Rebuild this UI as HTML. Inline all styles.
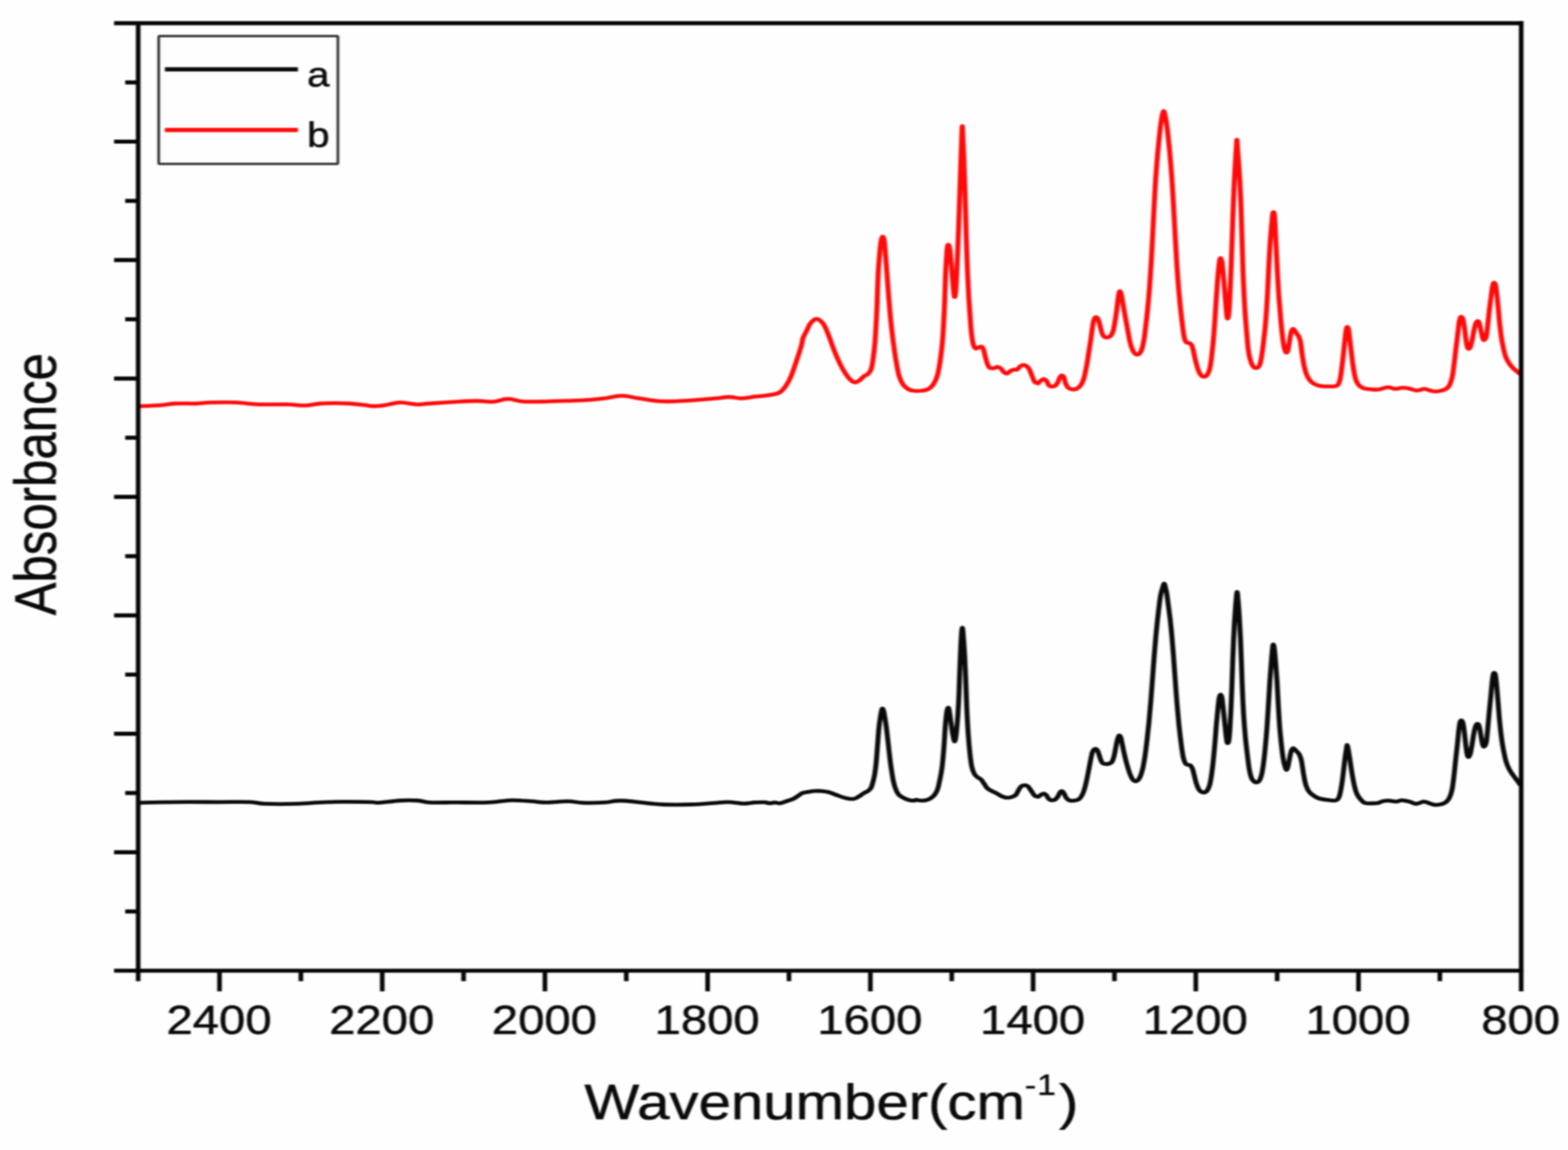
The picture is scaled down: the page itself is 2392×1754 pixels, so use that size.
<!DOCTYPE html>
<html lang="en">
<head>
<meta charset="utf-8">
<title>FTIR absorbance spectra</title>
<style>
html,body{margin:0;padding:0;background:#fefefe;}
body{width:2392px;height:1754px;overflow:hidden;}
svg{display:block;}
text{font-family:"Liberation Sans",sans-serif;fill:#0a0a0a;}
</style>
</head>
<body>
<svg width="2392" height="1754" viewBox="0 0 2392 1754">
<defs><filter id="soft" filterUnits="userSpaceOnUse" x="0" y="0" width="2392" height="1754" color-interpolation-filters="sRGB"><feGaussianBlur stdDeviation="1.50 1.15"/></filter></defs>
<rect x="0" y="0" width="2392" height="1754" fill="#fefefe"/>
<g filter="url(#soft)">
<rect x="-20" y="-20" width="2432" height="1794" fill="#fefefe"/>
<g fill="none" stroke-linejoin="round" stroke-linecap="butt" transform="scale(1.300,1)">
<path d="M163.24,1224.4C170.21,1224.2 189.55,1223.4 205.06,1223.3C220.57,1223.1 241.48,1223.3 256.27,1223.3C271.07,1223.3 284.73,1222.8 293.83,1223.3C302.94,1223.7 301.51,1225.5 310.90,1225.9C320.29,1226.4 337.93,1226.4 350.17,1225.9C362.40,1225.5 370.08,1223.7 384.31,1223.3C398.53,1222.8 425.56,1223.1 435.52,1223.3C444.06,1223.4 438.37,1224.7 444.06,1224.4C449.75,1224.0 461.98,1221.6 469.66,1221.0C477.35,1220.5 484.46,1220.6 490.15,1221.0C495.84,1221.5 497.26,1223.4 503.81,1223.9C510.35,1224.4 523.64,1223.9 529.41,1223.9C535.19,1223.9 531.26,1223.9 538.46,1223.9C545.66,1223.9 562.36,1224.5 572.60,1223.9C582.85,1223.4 591.38,1220.9 599.92,1220.6C608.45,1220.3 616.99,1221.6 623.82,1222.2C630.65,1222.7 633.78,1223.9 640.89,1223.9C648.00,1223.9 659.38,1222.1 666.50,1222.2C673.61,1222.2 676.45,1224.1 683.57,1224.4C690.68,1224.7 702.63,1224.4 709.17,1223.9C715.72,1223.4 718.56,1221.9 722.83,1221.5C727.10,1221.1 729.94,1221.1 734.78,1221.5C739.62,1221.9 744.74,1223.0 751.85,1223.9C758.97,1224.9 767.50,1226.5 777.46,1227.0C787.42,1227.6 801.64,1227.4 811.60,1227.0C821.56,1226.7 830.10,1225.4 837.21,1224.8C844.32,1224.2 848.59,1223.2 854.28,1223.3C859.97,1223.4 867.08,1225.2 871.35,1225.5C875.62,1225.7 877.68,1225.1 879.89,1224.8C882.10,1224.6 881.78,1224.2 884.62,1224.0C887.45,1223.8 893.83,1223.4 896.91,1223.6C899.98,1223.8 901.00,1225.2 903.05,1225.2C905.10,1225.3 907.15,1224.0 909.20,1224.0C911.25,1224.0 913.04,1225.6 915.34,1225.2C917.65,1224.9 920.47,1223.1 923.03,1222.0C925.59,1220.9 928.40,1220.0 930.71,1218.6C933.01,1217.2 935.06,1215.1 936.85,1213.6C938.65,1212.2 939.41,1210.7 941.46,1209.7C943.51,1208.7 946.58,1208.2 949.14,1207.7C951.71,1207.1 954.27,1206.4 956.83,1206.3C959.39,1206.1 961.69,1206.3 964.51,1206.7C967.33,1207.1 970.65,1207.6 973.73,1208.7C976.80,1209.8 979.87,1211.8 982.95,1213.2C986.02,1214.7 989.09,1216.3 992.16,1217.2C995.24,1218.1 998.82,1219.0 1001.38,1218.6C1003.94,1218.3 1005.48,1216.7 1007.53,1215.2C1009.58,1213.7 1011.88,1211.1 1013.67,1209.7C1015.47,1208.2 1016.87,1208.0 1018.28,1206.7C1019.69,1205.3 1021.02,1204.4 1022.12,1201.7C1023.23,1198.9 1024.18,1193.6 1024.92,1190.0C1025.66,1186.4 1026.00,1184.5 1026.54,1180.0C1027.08,1175.5 1027.63,1170.4 1028.17,1163.2C1028.71,1156.0 1029.24,1145.5 1029.78,1136.6C1030.32,1127.7 1030.86,1117.1 1031.41,1110.0C1031.96,1102.9 1032.55,1098.3 1033.06,1094.0C1033.57,1089.7 1034.04,1086.2 1034.46,1084.0C1034.89,1081.8 1035.22,1080.6 1035.61,1080.6C1036.01,1080.6 1036.40,1081.8 1036.84,1084.0C1037.29,1086.2 1037.75,1089.7 1038.30,1094.0C1038.86,1098.3 1039.47,1102.9 1040.18,1110.0C1040.88,1117.1 1041.75,1127.7 1042.53,1136.6C1043.31,1145.5 1044.16,1156.0 1044.87,1163.2C1045.59,1170.4 1046.29,1175.6 1046.82,1180.0C1047.36,1184.4 1047.47,1186.1 1048.09,1189.7C1048.71,1193.3 1049.50,1198.0 1050.55,1201.7C1051.60,1205.3 1052.85,1209.2 1054.39,1211.7C1055.93,1214.1 1057.85,1215.2 1059.77,1216.6C1061.69,1218.0 1063.86,1219.3 1065.91,1220.0C1067.96,1220.8 1070.52,1221.2 1072.06,1221.2C1073.59,1221.2 1073.59,1220.0 1075.13,1220.0C1076.67,1220.0 1078.97,1221.3 1081.28,1221.2C1083.58,1221.2 1086.65,1220.7 1088.96,1219.6C1091.26,1218.5 1093.31,1217.0 1095.10,1214.6C1096.90,1212.3 1098.42,1209.8 1099.71,1205.7C1101.00,1201.5 1101.87,1195.7 1102.83,1189.7C1103.80,1183.7 1104.72,1178.0 1105.52,1169.7C1106.33,1161.4 1107.06,1149.7 1107.67,1139.7C1108.28,1129.8 1108.70,1118.1 1109.18,1109.8C1109.67,1101.5 1110.16,1094.5 1110.58,1089.8C1111.00,1085.2 1111.28,1083.5 1111.70,1081.8C1112.11,1080.2 1112.63,1078.8 1113.08,1079.8C1113.53,1080.8 1113.87,1083.5 1114.41,1087.8C1114.95,1092.1 1115.69,1100.1 1116.34,1105.8C1116.99,1111.5 1117.70,1117.6 1118.31,1121.8C1118.92,1125.9 1119.43,1130.4 1119.99,1130.8C1120.56,1131.1 1121.10,1128.9 1121.68,1123.8C1122.27,1118.6 1123.01,1107.9 1123.52,1099.8C1124.03,1091.7 1124.42,1082.5 1124.74,1075.0C1125.06,1067.5 1125.16,1064.2 1125.43,1055.0C1125.70,1045.8 1126.03,1031.2 1126.36,1020.0C1126.68,1008.8 1127.06,997.0 1127.39,988.0C1127.72,979.0 1128.05,971.1 1128.35,966.0C1128.66,960.9 1128.92,957.3 1129.23,957.3C1129.53,957.3 1129.73,958.9 1130.19,966.0C1130.65,973.1 1131.47,987.6 1131.99,999.9C1132.52,1012.2 1132.93,1026.6 1133.35,1039.9C1133.76,1053.2 1134.01,1066.5 1134.48,1079.8C1134.95,1093.1 1135.56,1108.1 1136.19,1119.8C1136.81,1131.4 1137.51,1141.4 1138.22,1149.7C1138.93,1158.1 1139.55,1164.5 1140.43,1169.7C1141.31,1174.9 1142.35,1178.0 1143.50,1180.7C1144.65,1183.4 1146.06,1184.4 1147.34,1185.7C1148.62,1187.0 1149.90,1187.0 1151.18,1188.7C1152.46,1190.3 1153.74,1193.3 1155.02,1195.7C1156.30,1198.0 1157.33,1200.8 1158.87,1202.7C1160.40,1204.5 1162.32,1205.3 1164.24,1206.7C1166.16,1208.0 1168.47,1209.3 1170.39,1210.7C1172.31,1212.0 1173.97,1213.6 1175.77,1214.6C1177.56,1215.6 1179.22,1216.5 1181.14,1216.6C1183.06,1216.8 1185.50,1216.3 1187.29,1215.6C1189.08,1215.0 1190.62,1214.3 1191.90,1212.6C1193.18,1211.0 1193.95,1207.8 1194.97,1205.7C1196.00,1203.5 1196.76,1201.0 1198.04,1199.7C1199.32,1198.3 1201.24,1197.7 1202.65,1197.7C1204.06,1197.7 1205.21,1198.2 1206.49,1199.7C1207.77,1201.2 1209.05,1204.3 1210.33,1206.7C1211.62,1209.0 1212.90,1212.2 1214.18,1213.6C1215.46,1215.1 1217.18,1215.1 1218.02,1215.2C1218.86,1215.4 1218.51,1215.2 1219.23,1214.6C1219.94,1214.0 1221.35,1212.4 1222.30,1211.7C1223.25,1210.9 1224.01,1210.1 1224.91,1210.3C1225.81,1210.4 1226.70,1211.3 1227.68,1212.6C1228.65,1214.0 1229.60,1217.3 1230.75,1218.6C1231.90,1220.0 1233.31,1220.5 1234.59,1220.6C1235.87,1220.7 1237.28,1220.2 1238.43,1219.2C1239.58,1218.2 1240.61,1216.4 1241.50,1214.6C1242.40,1212.9 1243.04,1210.0 1243.81,1208.7C1244.58,1207.3 1245.34,1206.5 1246.11,1206.7C1246.88,1206.8 1247.60,1208.0 1248.42,1209.7C1249.24,1211.3 1250.01,1214.8 1251.03,1216.6C1252.05,1218.5 1253.08,1219.9 1254.56,1220.6C1256.05,1221.4 1258.15,1221.4 1259.94,1221.2C1261.73,1221.1 1263.73,1220.9 1265.32,1219.6C1266.91,1218.4 1268.26,1216.3 1269.47,1213.6C1270.67,1211.0 1271.59,1207.7 1272.54,1203.7C1273.49,1199.7 1274.33,1194.7 1275.18,1189.7C1276.04,1184.7 1276.86,1179.0 1277.67,1173.7C1278.47,1168.4 1279.34,1162.1 1280.02,1157.7C1280.71,1153.4 1281.14,1150.1 1281.76,1147.7C1282.38,1145.3 1283.09,1144.3 1283.75,1143.3C1284.42,1142.4 1285.06,1141.9 1285.75,1142.1C1286.44,1142.4 1287.21,1143.1 1287.90,1144.7C1288.59,1146.3 1289.23,1149.2 1289.90,1151.7C1290.57,1154.2 1291.21,1157.7 1291.90,1159.7C1292.59,1161.8 1293.10,1163.2 1294.05,1164.1C1295.00,1165.0 1296.35,1165.2 1297.58,1165.3C1298.81,1165.4 1300.22,1165.2 1301.42,1164.7C1302.63,1164.2 1303.83,1163.9 1304.80,1162.1C1305.78,1160.3 1306.55,1157.1 1307.26,1153.7C1307.98,1150.3 1308.49,1145.7 1309.11,1141.7C1309.72,1137.7 1310.39,1132.8 1310.95,1129.8C1311.51,1126.7 1312.02,1124.7 1312.49,1123.4C1312.95,1122.0 1313.25,1121.5 1313.72,1121.8C1314.18,1122.0 1314.75,1122.8 1315.25,1124.8C1315.75,1126.8 1316.16,1130.3 1316.72,1133.8C1317.29,1137.3 1317.89,1141.4 1318.63,1145.7C1319.36,1150.1 1320.30,1155.4 1321.15,1159.7C1321.99,1164.0 1322.84,1168.0 1323.70,1171.7C1324.56,1175.4 1325.42,1178.9 1326.31,1181.7C1327.21,1184.5 1328.11,1187.0 1329.08,1188.7C1330.05,1190.3 1331.08,1191.5 1332.15,1191.7C1333.23,1191.8 1334.51,1191.0 1335.53,1189.7C1336.56,1188.3 1337.38,1186.7 1338.30,1183.7C1339.22,1180.7 1340.19,1176.7 1341.06,1171.7C1341.94,1166.7 1342.75,1160.7 1343.56,1153.7C1344.37,1146.7 1345.13,1138.4 1345.91,1129.8C1346.70,1121.1 1347.50,1111.8 1348.25,1101.8C1349.00,1091.8 1349.70,1081.2 1350.41,1069.8C1351.12,1058.5 1351.83,1045.5 1352.51,1033.9C1353.18,1022.2 1353.81,1010.6 1354.46,999.9C1355.11,989.3 1355.83,978.3 1356.41,970.0C1356.99,961.7 1357.56,954.7 1357.93,950.0C1358.31,945.3 1358.12,947.4 1358.65,941.6C1359.17,935.8 1360.42,921.3 1361.09,915.0C1361.75,908.7 1362.08,907.1 1362.62,904.0C1363.15,900.9 1363.73,898.8 1364.31,896.5C1364.88,894.2 1365.51,890.2 1366.08,890.2C1366.64,890.2 1367.21,894.2 1367.69,896.5C1368.18,898.8 1368.56,900.9 1368.98,904.0C1369.40,907.1 1369.54,908.7 1370.19,915.0C1370.84,921.3 1372.31,935.8 1372.87,941.6C1373.44,947.4 1373.22,945.3 1373.59,950.0C1373.97,954.7 1374.55,961.7 1375.12,970.0C1375.69,978.3 1376.39,989.3 1377.02,999.9C1377.65,1010.6 1378.25,1022.2 1378.91,1033.9C1379.56,1045.5 1380.25,1058.5 1380.96,1069.8C1381.67,1081.2 1382.45,1092.5 1383.17,1101.8C1383.88,1111.1 1384.56,1118.4 1385.24,1125.8C1385.92,1133.1 1386.62,1140.4 1387.25,1145.7C1387.88,1151.1 1388.32,1154.6 1389.00,1157.7C1389.67,1160.9 1390.41,1163.2 1391.30,1164.7C1392.20,1166.2 1393.43,1166.2 1394.38,1166.7C1395.32,1167.2 1396.14,1166.7 1396.99,1167.7C1397.83,1168.7 1398.68,1170.0 1399.45,1172.7C1400.22,1175.4 1400.83,1179.9 1401.60,1183.7C1402.37,1187.5 1403.21,1192.3 1404.06,1195.7C1404.90,1199.0 1405.72,1201.7 1406.67,1203.7C1407.62,1205.7 1408.64,1206.8 1409.74,1207.7C1410.84,1208.5 1412.12,1209.0 1413.27,1208.7C1414.43,1208.3 1415.63,1207.5 1416.65,1205.7C1417.68,1203.8 1418.62,1201.3 1419.42,1197.7C1420.23,1194.0 1420.78,1189.7 1421.49,1183.7C1422.19,1177.7 1422.94,1170.0 1423.63,1161.7C1424.33,1153.4 1425.02,1143.1 1425.64,1133.8C1426.26,1124.4 1426.74,1114.8 1427.34,1105.8C1427.94,1096.8 1428.67,1086.8 1429.25,1079.8C1429.82,1072.8 1430.28,1067.2 1430.79,1063.8C1431.30,1060.5 1431.81,1059.5 1432.33,1059.5C1432.84,1059.5 1433.36,1060.5 1433.86,1063.8C1434.36,1067.2 1434.82,1073.8 1435.33,1079.8C1435.84,1085.8 1436.40,1093.1 1436.94,1099.8C1437.48,1106.5 1438.10,1114.6 1438.56,1119.8C1439.02,1124.9 1439.33,1128.5 1439.70,1130.8C1440.07,1133.0 1440.39,1133.5 1440.78,1133.4C1441.16,1133.2 1441.61,1133.0 1442.01,1129.8C1442.40,1126.5 1442.76,1121.1 1443.15,1113.8C1443.54,1106.5 1443.95,1096.5 1444.35,1085.8C1444.74,1075.2 1445.14,1062.5 1445.51,1049.9C1445.88,1037.2 1446.19,1022.6 1446.54,1009.9C1446.90,997.3 1447.28,984.0 1447.63,974.0C1447.97,964.0 1448.39,955.0 1448.61,950.0C1448.82,945.0 1448.64,948.8 1448.91,943.8C1449.18,938.8 1449.77,926.7 1450.23,919.8C1450.70,913.0 1451.20,902.9 1451.68,902.9C1452.17,902.9 1452.66,913.0 1453.12,919.8C1453.58,926.7 1454.00,934.8 1454.42,943.8C1454.85,952.8 1455.30,962.9 1455.69,974.0C1456.08,985.0 1456.40,997.3 1456.76,1009.9C1457.12,1022.6 1457.42,1036.6 1457.85,1049.9C1458.28,1063.2 1458.74,1077.2 1459.35,1089.8C1459.96,1102.5 1460.74,1115.1 1461.51,1125.8C1462.28,1136.4 1463.21,1145.7 1463.97,1153.7C1464.72,1161.7 1465.27,1168.2 1466.04,1173.7C1466.81,1179.2 1467.65,1183.6 1468.59,1186.7C1469.52,1189.7 1470.63,1191.0 1471.66,1192.1C1472.68,1193.2 1473.71,1193.5 1474.73,1193.3C1475.76,1193.0 1476.86,1192.6 1477.80,1190.7C1478.75,1188.7 1479.62,1185.9 1480.42,1181.7C1481.21,1177.5 1481.87,1172.4 1482.57,1165.7C1483.27,1159.1 1483.93,1151.1 1484.62,1141.7C1485.32,1132.4 1486.10,1121.1 1486.75,1109.8C1487.40,1098.5 1487.94,1085.8 1488.51,1073.8C1489.09,1061.9 1489.60,1049.2 1490.19,1037.9C1490.79,1026.6 1491.56,1014.2 1492.09,1005.9C1492.61,997.6 1492.97,991.8 1493.33,987.9C1493.69,984.1 1493.92,982.8 1494.24,983.0C1494.57,983.1 1494.86,984.5 1495.30,988.9C1495.74,993.4 1496.33,1001.4 1496.88,1009.9C1497.43,1018.4 1498.07,1029.2 1498.59,1039.9C1499.11,1050.5 1499.48,1062.2 1500.00,1073.8C1500.52,1085.5 1501.06,1098.8 1501.73,1109.8C1502.40,1120.8 1503.36,1131.9 1504.02,1139.7C1504.69,1147.5 1505.13,1151.8 1505.74,1156.6C1506.35,1161.4 1507.07,1165.6 1507.69,1168.5C1508.31,1171.4 1508.90,1173.9 1509.46,1174.2C1510.03,1174.5 1510.60,1172.3 1511.08,1170.5C1511.55,1168.7 1511.77,1166.7 1512.31,1163.3C1512.85,1159.9 1513.72,1153.3 1514.31,1150.0C1514.90,1146.7 1515.33,1145.0 1515.85,1143.6C1516.36,1142.1 1516.87,1141.5 1517.38,1141.3C1517.90,1141.1 1518.41,1141.9 1518.92,1142.4C1519.44,1143.0 1519.69,1143.6 1520.46,1144.6C1521.23,1145.6 1522.68,1147.1 1523.54,1148.6C1524.40,1150.0 1525.01,1151.4 1525.62,1153.3C1526.22,1155.2 1526.68,1157.2 1527.15,1160.0C1527.62,1162.8 1528.03,1166.7 1528.44,1170.0C1528.85,1173.3 1529.20,1176.7 1529.63,1180.0C1530.06,1183.3 1530.51,1186.9 1531.02,1190.0C1531.54,1193.1 1531.97,1195.9 1532.69,1198.6C1533.42,1201.3 1534.33,1203.9 1535.38,1206.0C1536.44,1208.1 1537.03,1209.2 1539.00,1211.1C1540.97,1213.0 1543.99,1216.0 1547.23,1217.5C1550.47,1219.0 1555.41,1219.6 1558.46,1220.2C1561.51,1220.8 1563.76,1221.1 1565.54,1221.1C1567.32,1221.0 1568.13,1221.0 1569.15,1219.9C1570.18,1218.8 1570.94,1217.3 1571.69,1214.5C1572.44,1211.7 1573.06,1207.3 1573.65,1203.2C1574.25,1199.1 1574.73,1194.9 1575.26,1189.9C1575.79,1184.9 1576.31,1178.8 1576.81,1173.3C1577.32,1167.8 1577.84,1161.3 1578.30,1156.6C1578.76,1151.9 1579.24,1148.2 1579.57,1145.3C1579.91,1142.4 1580.08,1140.5 1580.31,1139.0C1580.53,1137.5 1580.71,1136.2 1580.92,1136.3C1581.14,1136.4 1581.30,1137.8 1581.58,1139.5C1581.86,1141.2 1582.17,1143.2 1582.62,1146.6C1583.07,1150.0 1583.77,1155.5 1584.30,1160.0C1584.83,1164.5 1585.27,1168.9 1585.80,1173.3C1586.34,1177.7 1586.87,1182.2 1587.50,1186.6C1588.14,1191.0 1588.84,1195.9 1589.62,1199.9C1590.39,1203.9 1591.13,1207.5 1592.15,1210.5C1593.18,1213.5 1594.23,1215.5 1595.77,1217.9C1597.31,1220.3 1599.18,1223.4 1601.40,1224.6C1603.61,1225.9 1606.52,1225.2 1609.08,1225.2C1611.64,1225.3 1614.45,1225.4 1616.76,1224.8C1619.06,1224.3 1620.73,1222.6 1622.90,1222.0C1625.08,1221.4 1627.26,1221.1 1629.82,1221.2C1632.38,1221.3 1635.71,1222.7 1638.27,1222.6C1640.83,1222.5 1642.62,1220.6 1645.18,1220.6C1647.74,1220.6 1650.82,1221.7 1653.63,1222.6C1656.45,1223.5 1659.27,1226.0 1662.08,1226.0C1664.90,1226.0 1667.97,1222.8 1670.53,1222.6C1673.09,1222.5 1675.27,1224.4 1677.45,1225.2C1679.62,1226.1 1681.29,1227.4 1683.59,1227.6C1685.90,1227.9 1689.10,1227.3 1691.28,1226.6C1693.45,1226.0 1695.04,1225.3 1696.65,1223.6C1698.27,1222.0 1699.73,1220.0 1700.95,1216.6C1702.18,1213.3 1703.16,1209.2 1704.03,1203.7C1704.90,1198.2 1705.46,1191.3 1706.17,1183.7C1706.88,1176.0 1707.59,1166.0 1708.28,1157.7C1708.97,1149.4 1709.73,1141.1 1710.33,1133.8C1710.92,1126.4 1711.36,1119.1 1711.85,1113.8C1712.34,1108.5 1712.71,1104.3 1713.25,1101.8C1713.79,1099.3 1714.48,1098.5 1715.09,1098.8C1715.70,1099.1 1716.37,1100.6 1716.93,1103.8C1717.50,1107.0 1717.96,1112.5 1718.47,1117.8C1718.98,1123.1 1719.49,1130.4 1720.01,1135.8C1720.52,1141.1 1721.00,1146.6 1721.54,1149.7C1722.08,1152.9 1722.59,1154.7 1723.23,1154.7C1723.87,1154.7 1724.69,1152.9 1725.38,1149.7C1726.07,1146.6 1726.72,1140.7 1727.38,1135.8C1728.05,1130.8 1728.69,1124.4 1729.38,1119.8C1730.07,1115.1 1730.79,1110.5 1731.53,1107.8C1732.27,1105.1 1733.12,1103.8 1733.83,1103.8C1734.55,1103.8 1735.17,1104.8 1735.83,1107.8C1736.50,1110.8 1737.19,1117.3 1737.83,1121.8C1738.47,1126.3 1739.06,1131.9 1739.67,1134.8C1740.29,1137.6 1740.80,1139.1 1741.52,1138.7C1742.23,1138.4 1743.28,1136.9 1743.97,1132.8C1744.67,1128.6 1745.07,1121.6 1745.67,1113.8C1746.27,1106.0 1746.93,1094.8 1747.58,1085.8C1748.22,1076.8 1748.98,1067.5 1749.56,1059.9C1750.13,1052.2 1750.55,1045.0 1751.01,1039.9C1751.46,1034.7 1751.86,1031.2 1752.27,1028.9C1752.69,1026.6 1753.04,1026.0 1753.50,1026.3C1753.96,1026.6 1754.52,1027.0 1755.04,1030.9C1755.55,1034.8 1756.07,1042.7 1756.58,1049.9C1757.10,1057.0 1757.57,1065.2 1758.12,1073.8C1758.67,1082.5 1759.25,1093.1 1759.90,1101.8C1760.54,1110.5 1761.27,1118.8 1762.00,1125.8C1762.72,1132.8 1763.36,1137.7 1764.25,1143.7C1765.14,1149.7 1766.17,1156.7 1767.33,1161.7C1768.48,1166.7 1769.76,1170.2 1771.17,1173.7C1772.58,1177.2 1774.24,1179.9 1775.78,1182.7C1777.31,1185.5 1778.98,1188.2 1780.39,1190.7C1781.80,1193.2 1783.59,1196.5 1784.23,1197.7" stroke="#0a0a0a" stroke-width="5.80"/>
<path d="M163.24,619.5C167.36,619.3 181.02,618.8 187.99,618.1C194.96,617.5 197.95,615.9 205.06,615.5C212.17,615.0 223.55,615.7 230.67,615.5C237.78,615.2 240.06,614.2 247.74,613.9C255.42,613.7 267.37,613.4 276.76,613.9C286.15,614.4 293.83,616.3 304.07,616.8C314.32,617.3 330.53,616.6 338.22,616.8C345.90,617.0 346.18,617.9 350.17,618.1C354.15,618.4 357.85,618.6 362.12,618.1C366.38,617.7 370.65,616.0 375.77,615.5C380.89,614.9 387.15,614.8 392.84,614.8C398.53,614.8 404.22,615.0 409.91,615.5C415.61,616.0 422.15,617.0 426.99,617.7C431.82,618.4 434.95,619.4 438.94,619.5C442.92,619.6 445.76,619.1 450.89,618.1C456.01,617.2 463.40,614.2 469.66,613.9C475.92,613.7 482.75,616.6 488.44,616.8C494.13,617.1 495.56,616.2 503.81,615.5C512.06,614.8 528.47,613.3 537.95,612.6C547.42,611.9 554.02,611.4 560.65,611.5C567.28,611.5 571.75,613.3 577.73,612.8C583.70,612.3 590.53,608.5 596.50,608.4C602.48,608.3 606.18,611.7 613.58,612.4C620.97,613.0 631.78,612.6 640.89,612.4C649.99,612.2 659.67,611.7 668.20,611.3C676.74,610.9 685.27,610.5 692.10,609.9C698.93,609.3 702.91,608.7 709.17,607.7C715.43,606.7 722.83,603.7 729.66,603.7C736.49,603.7 742.18,606.3 750.15,607.7C758.11,609.1 767.22,611.7 777.46,612.2C787.70,612.6 801.36,611.3 811.60,610.6C821.84,609.9 831.52,608.6 838.92,607.7C846.31,606.9 850.87,605.5 855.99,605.5C861.11,605.5 865.66,607.6 869.64,607.7C873.63,607.8 877.39,606.6 879.89,606.2C882.38,605.7 881.27,605.7 884.62,605.2C887.96,604.7 895.11,604.2 899.98,603.2C904.84,602.2 910.22,601.5 913.81,599.2C917.39,597.0 919.18,593.6 921.49,589.7C923.79,585.7 925.84,580.7 927.63,575.7C929.43,570.7 930.71,565.4 932.24,559.7C933.78,554.0 935.45,547.4 936.85,541.7C938.26,536.1 939.80,530.1 940.69,525.7C941.59,521.4 941.33,519.1 942.23,515.8C943.13,512.4 944.66,509.4 946.07,505.8C947.48,502.1 949.14,496.8 950.68,493.8C952.22,490.8 954.06,489.0 955.29,487.8C956.52,486.6 957.03,486.4 958.06,486.4C959.08,486.4 960.10,486.6 961.44,487.8C962.77,489.0 964.51,490.8 966.05,493.8C967.58,496.8 969.12,501.1 970.65,505.8C972.19,510.4 973.73,516.4 975.26,521.7C976.80,527.1 978.08,532.1 979.87,537.7C981.67,543.4 983.97,550.4 986.02,555.7C988.07,561.0 990.12,565.7 992.16,569.7C994.21,573.7 996.39,577.4 998.31,579.7C1000.23,581.9 1001.89,583.3 1003.69,583.3C1005.48,583.3 1007.40,581.2 1009.06,579.7C1010.73,578.1 1012.14,575.6 1013.67,574.1C1015.21,572.6 1016.87,572.4 1018.28,570.7C1019.69,568.9 1021.12,567.2 1022.12,563.7C1023.13,560.2 1023.52,556.7 1024.30,549.7C1025.07,542.7 1025.99,535.1 1026.79,521.7C1027.58,508.4 1028.60,481.8 1029.06,469.8C1029.52,457.8 1029.37,457.0 1029.55,450.0C1029.73,443.0 1029.91,435.2 1030.15,428.0C1030.40,420.8 1030.66,413.6 1031.01,406.6C1031.37,399.6 1031.89,391.9 1032.30,386.0C1032.71,380.2 1033.09,375.2 1033.48,371.5C1033.86,367.8 1034.22,365.3 1034.62,363.6C1035.01,361.8 1035.43,361.0 1035.84,361.0C1036.25,361.0 1036.70,361.8 1037.07,363.6C1037.45,365.3 1037.79,367.8 1038.10,371.5C1038.41,375.2 1038.60,380.2 1038.95,386.0C1039.30,391.9 1039.79,399.6 1040.20,406.6C1040.61,413.6 1041.00,420.8 1041.42,428.0C1041.83,435.2 1042.03,439.7 1042.68,450.0C1043.34,460.3 1044.29,476.5 1045.35,489.8C1046.41,503.1 1047.90,518.8 1049.04,529.7C1050.18,540.7 1051.17,548.4 1052.19,555.7C1053.21,563.0 1053.89,568.5 1055.16,573.7C1056.42,578.8 1057.97,583.3 1059.77,586.7C1061.56,590.0 1063.86,592.1 1065.91,593.6C1067.96,595.2 1069.50,595.6 1072.06,596.0C1074.62,596.4 1078.46,596.4 1081.28,596.0C1084.09,595.6 1086.65,595.2 1088.96,593.6C1091.26,592.1 1093.31,590.0 1095.10,586.7C1096.90,583.3 1098.46,578.8 1099.71,573.7C1100.97,568.5 1101.60,564.7 1102.65,555.7C1103.70,546.7 1105.07,534.1 1106.00,519.7C1106.92,505.4 1107.63,486.5 1108.22,469.8C1108.81,453.2 1109.07,433.9 1109.54,419.9C1110.01,405.9 1110.62,393.4 1111.03,385.9C1111.44,378.4 1111.66,377.0 1112.00,374.9C1112.35,372.9 1112.70,373.0 1113.08,373.5C1113.46,374.0 1113.87,374.5 1114.31,377.9C1114.75,381.3 1115.20,386.9 1115.72,393.9C1116.24,400.9 1116.90,411.6 1117.45,419.9C1118.00,428.2 1118.61,438.4 1119.04,443.8C1119.46,449.3 1119.63,452.2 1119.99,452.8C1120.36,453.5 1120.83,452.3 1121.22,447.8C1121.62,443.3 1121.96,435.5 1122.36,425.9C1122.75,416.2 1123.18,402.6 1123.59,389.9C1124.00,377.3 1124.53,360.0 1124.83,350.0C1125.13,340.0 1125.12,340.0 1125.38,330.0C1125.65,320.0 1126.04,305.0 1126.43,290.0C1126.82,275.0 1127.36,254.2 1127.73,240.0C1128.11,225.8 1128.43,212.9 1128.68,205.0C1128.93,197.1 1129.05,192.5 1129.23,192.5C1129.41,192.5 1129.49,197.1 1129.78,205.0C1130.07,212.9 1130.57,225.8 1130.99,240.0C1131.42,254.2 1131.95,275.0 1132.32,290.0C1132.68,305.0 1132.89,316.7 1133.18,330.0C1133.47,343.3 1133.73,356.6 1134.07,369.9C1134.40,383.3 1134.74,396.6 1135.18,409.9C1135.61,423.2 1136.13,437.2 1136.69,449.8C1137.26,462.5 1138.05,476.5 1138.57,485.8C1139.08,495.1 1139.27,499.8 1139.76,505.8C1140.25,511.8 1140.88,517.7 1141.50,521.7C1142.13,525.7 1142.78,528.1 1143.50,529.7C1144.22,531.4 1144.91,531.7 1145.81,531.7C1146.70,531.7 1147.85,530.2 1148.88,529.7C1149.90,529.2 1151.06,528.1 1151.95,528.7C1152.85,529.4 1153.49,530.9 1154.26,533.7C1155.02,536.6 1155.79,542.1 1156.56,545.7C1157.33,549.4 1158.10,553.2 1158.87,555.7C1159.63,558.2 1160.02,559.7 1161.17,560.7C1162.32,561.7 1164.24,561.9 1165.78,561.7C1167.32,561.5 1168.98,559.7 1170.39,559.7C1171.80,559.7 1172.95,560.4 1174.23,561.7C1175.51,563.0 1176.79,566.4 1178.07,567.7C1179.35,569.0 1180.63,570.0 1181.91,569.7C1183.19,569.3 1184.47,566.7 1185.75,565.7C1187.03,564.7 1188.31,564.0 1189.59,563.7C1190.87,563.4 1192.15,564.5 1193.43,563.7C1194.71,562.9 1196.00,559.9 1197.28,558.7C1198.56,557.5 1199.84,556.7 1201.12,556.7C1202.40,556.7 1203.81,557.5 1204.96,558.7C1206.11,559.9 1207.01,561.2 1208.03,563.7C1209.05,566.2 1210.08,570.5 1211.10,573.7C1212.13,576.8 1213.02,580.8 1214.18,582.7C1215.33,584.5 1217.30,584.4 1218.02,584.7C1218.46,584.9 1218.02,584.9 1218.46,584.1C1219.17,583.2 1221.15,580.6 1222.30,579.7C1223.45,578.7 1224.35,577.9 1225.37,578.3C1226.40,578.6 1227.55,580.1 1228.44,581.7C1229.34,583.2 1229.72,586.3 1230.75,587.7C1231.77,589.0 1233.31,589.6 1234.59,589.7C1235.87,589.7 1237.28,589.2 1238.43,588.1C1239.58,586.9 1240.61,584.8 1241.50,582.7C1242.40,580.5 1243.04,576.9 1243.81,575.3C1244.58,573.6 1245.34,572.6 1246.11,572.7C1246.88,572.7 1247.65,573.5 1248.42,575.7C1249.19,577.8 1249.83,583.0 1250.72,585.7C1251.62,588.3 1252.39,590.3 1253.79,591.7C1255.20,593.0 1257.38,594.0 1259.17,594.0C1260.96,594.1 1262.89,593.4 1264.55,592.1C1266.21,590.7 1267.88,588.4 1269.16,585.7C1270.44,582.9 1271.23,580.3 1272.23,575.7C1273.23,571.0 1274.24,564.0 1275.14,557.7C1276.04,551.4 1276.80,544.4 1277.61,537.7C1278.43,531.1 1279.32,524.1 1280.03,517.7C1280.74,511.4 1281.35,504.4 1281.89,499.8C1282.43,495.1 1282.73,492.4 1283.29,489.8C1283.86,487.2 1284.57,485.0 1285.29,484.2C1286.01,483.4 1286.90,483.9 1287.60,484.8C1288.29,485.7 1288.80,487.3 1289.44,489.8C1290.08,492.3 1290.72,496.4 1291.44,499.8C1292.15,503.1 1292.97,507.4 1293.74,509.8C1294.51,512.1 1295.15,512.9 1296.05,513.8C1296.94,514.6 1297.97,514.9 1299.12,514.8C1300.27,514.6 1301.81,514.3 1302.96,512.8C1304.11,511.3 1305.15,509.3 1306.03,505.8C1306.91,502.3 1307.52,497.1 1308.24,491.8C1308.95,486.5 1309.71,479.8 1310.34,473.8C1310.97,467.8 1311.55,460.3 1312.01,455.8C1312.47,451.3 1312.74,448.8 1313.10,446.8C1313.46,444.9 1313.77,444.1 1314.18,444.2C1314.59,444.4 1315.08,445.6 1315.56,447.8C1316.03,450.1 1316.43,453.5 1317.03,457.8C1317.63,462.2 1318.44,468.5 1319.16,473.8C1319.89,479.1 1320.65,484.5 1321.40,489.8C1322.16,495.1 1322.93,500.4 1323.69,505.8C1324.46,511.1 1325.11,517.1 1326.01,521.7C1326.90,526.4 1328.05,530.7 1329.08,533.7C1330.10,536.7 1331.18,538.5 1332.15,539.7C1333.13,540.9 1334.02,541.1 1334.92,540.9C1335.81,540.8 1336.66,540.3 1337.53,538.7C1338.40,537.2 1339.32,535.2 1340.14,531.7C1340.97,528.2 1341.79,523.1 1342.48,517.7C1343.16,512.4 1343.57,507.1 1344.25,499.8C1344.93,492.5 1345.77,483.8 1346.54,473.8C1347.32,463.8 1348.15,452.2 1348.89,439.9C1349.62,427.5 1350.30,414.4 1350.95,399.9C1351.61,385.4 1352.18,369.7 1352.84,353.0C1353.50,336.3 1354.28,314.7 1354.90,300.0C1355.52,285.3 1355.99,275.8 1356.57,265.0C1357.16,254.2 1357.75,244.5 1358.40,235.0C1359.05,225.5 1359.87,215.5 1360.48,208.0C1361.09,200.5 1361.52,195.2 1362.07,190.0C1362.62,184.8 1363.19,179.9 1363.77,176.5C1364.35,173.1 1364.95,169.3 1365.54,169.3C1366.13,169.3 1366.71,173.1 1367.31,176.5C1367.90,179.9 1368.53,184.8 1369.10,190.0C1369.67,195.2 1370.11,200.5 1370.74,208.0C1371.36,215.5 1372.19,225.5 1372.85,235.0C1373.52,244.5 1374.13,254.2 1374.74,265.0C1375.35,275.8 1375.84,285.3 1376.51,300.0C1377.17,314.7 1378.02,336.3 1378.74,353.0C1379.45,369.7 1380.15,386.5 1380.81,400.0C1381.47,413.5 1382.00,423.0 1382.68,434.0C1383.36,445.0 1384.19,456.5 1384.91,465.8C1385.63,475.1 1386.36,482.8 1387.00,489.8C1387.65,496.8 1388.18,502.9 1388.77,507.8C1389.36,512.6 1389.86,516.3 1390.54,518.7C1391.21,521.2 1391.94,522.0 1392.84,522.7C1393.74,523.5 1394.97,522.7 1395.91,523.3C1396.86,524.0 1397.76,524.7 1398.53,526.7C1399.29,528.8 1399.81,531.9 1400.52,535.7C1401.24,539.6 1401.93,545.0 1402.83,549.7C1403.72,554.4 1404.88,560.0 1405.90,563.7C1406.92,567.4 1407.82,569.8 1408.97,571.7C1410.12,573.5 1411.53,574.7 1412.81,574.7C1414.09,574.7 1415.50,573.8 1416.65,571.7C1417.81,569.5 1418.84,566.7 1419.73,561.7C1420.62,556.7 1421.21,550.4 1422.00,541.7C1422.79,533.1 1423.70,521.7 1424.45,509.8C1425.21,497.8 1425.85,483.1 1426.54,469.8C1427.23,456.5 1427.99,440.5 1428.62,429.9C1429.24,419.2 1429.80,411.6 1430.27,405.9C1430.73,400.2 1431.04,397.9 1431.40,395.9C1431.77,393.9 1432.07,393.4 1432.48,393.9C1432.89,394.4 1433.39,395.2 1433.86,398.9C1434.34,402.6 1434.81,409.1 1435.32,415.9C1435.83,422.7 1436.40,431.5 1436.94,439.9C1437.48,448.2 1438.09,458.8 1438.55,465.8C1439.01,472.8 1439.36,478.5 1439.70,481.8C1440.05,485.1 1440.29,485.8 1440.62,485.8C1440.96,485.8 1441.35,485.1 1441.70,481.8C1442.04,478.5 1442.30,474.5 1442.69,465.8C1443.07,457.2 1443.57,442.5 1443.99,429.9C1444.41,417.2 1444.88,401.1 1445.19,389.9C1445.51,378.8 1445.66,372.2 1445.90,363.0C1446.14,353.8 1446.39,343.8 1446.63,335.0C1446.87,326.2 1447.05,319.2 1447.34,310.0C1447.62,300.8 1447.96,290.0 1448.32,280.0C1448.69,270.0 1449.17,258.7 1449.55,250.0C1449.94,241.3 1450.32,234.1 1450.64,228.0C1450.95,221.9 1451.19,213.2 1451.46,213.2C1451.74,213.2 1451.92,221.9 1452.28,228.0C1452.64,234.1 1453.16,241.3 1453.62,250.0C1454.08,258.7 1454.64,270.0 1455.05,280.0C1455.46,290.0 1455.81,300.8 1456.10,310.0C1456.39,319.2 1456.56,326.2 1456.78,335.0C1457.00,343.8 1457.18,352.2 1457.43,363.0C1457.68,373.8 1458.00,388.8 1458.29,400.0C1458.57,411.2 1458.73,418.4 1459.13,430.0C1459.54,441.6 1460.10,457.2 1460.72,469.8C1461.33,482.4 1462.15,495.1 1462.83,505.8C1463.52,516.4 1464.08,526.4 1464.83,533.7C1465.59,541.1 1466.42,545.5 1467.36,549.7C1468.29,553.9 1469.28,556.8 1470.43,558.7C1471.58,560.6 1473.04,561.5 1474.27,561.3C1475.50,561.1 1476.82,560.3 1477.80,557.7C1478.79,555.1 1479.37,551.7 1480.19,545.7C1481.01,539.7 1481.86,531.1 1482.71,521.7C1483.56,512.4 1484.51,501.8 1485.27,489.8C1486.03,477.8 1486.71,463.2 1487.29,449.8C1487.87,436.5 1488.22,423.2 1488.76,409.9C1489.29,396.6 1489.89,381.6 1490.50,369.9C1491.11,358.3 1491.89,347.5 1492.44,340.0C1492.98,332.5 1493.24,326.4 1493.78,324.7C1494.32,323.1 1495.11,322.5 1495.69,330.0C1496.27,337.5 1496.74,356.6 1497.26,369.9C1497.78,383.3 1498.24,396.6 1498.80,409.9C1499.35,423.2 1499.92,437.2 1500.58,449.8C1501.25,462.5 1502.06,475.1 1502.80,485.8C1503.54,496.4 1504.33,506.4 1505.02,513.8C1505.70,521.1 1506.21,525.7 1506.91,529.7C1507.60,533.7 1508.44,537.1 1509.21,537.7C1509.98,538.4 1510.80,537.1 1511.51,533.7C1512.23,530.4 1512.87,522.4 1513.51,517.7C1514.15,513.1 1514.74,508.4 1515.36,505.8C1515.97,503.1 1516.56,502.1 1517.20,501.8C1517.84,501.4 1518.48,502.6 1519.20,503.8C1519.91,504.9 1520.66,507.1 1521.50,508.8C1522.35,510.4 1523.50,511.6 1524.27,513.8C1525.04,515.9 1525.50,517.4 1526.11,521.7C1526.73,526.1 1527.31,534.1 1527.95,539.7C1528.59,545.4 1529.23,551.0 1529.95,555.7C1530.67,560.4 1531.36,564.2 1532.26,567.7C1533.15,571.2 1534.05,574.0 1535.33,576.7C1536.61,579.3 1538.15,581.8 1539.94,583.7C1541.73,585.5 1543.78,586.7 1546.08,587.7C1548.39,588.6 1551.21,589.0 1553.77,589.3C1556.33,589.5 1559.14,589.3 1561.45,589.3C1563.75,589.2 1566.06,589.5 1567.59,588.9C1569.13,588.3 1569.77,587.9 1570.67,585.7C1571.56,583.5 1572.27,580.3 1572.97,575.7C1573.67,571.0 1574.24,564.4 1574.88,557.7C1575.52,551.0 1576.21,542.7 1576.81,535.7C1577.41,528.7 1577.95,521.4 1578.46,515.8C1578.97,510.1 1579.44,504.6 1579.89,501.8C1580.33,498.9 1580.65,498.4 1581.11,498.8C1581.58,499.1 1582.15,500.3 1582.65,503.8C1583.15,507.3 1583.58,513.8 1584.13,519.7C1584.68,525.7 1585.32,533.1 1585.97,539.7C1586.61,546.4 1587.34,554.0 1587.99,559.7C1588.64,565.4 1589.17,569.8 1589.87,573.7C1590.57,577.5 1591.15,580.1 1592.18,582.7C1593.20,585.3 1594.48,587.6 1596.02,589.3C1597.55,590.9 1598.96,591.9 1601.40,592.6C1603.83,593.4 1607.80,593.8 1610.61,594.0C1613.43,594.3 1615.99,594.4 1618.30,594.0C1620.60,593.6 1622.52,592.2 1624.44,591.7C1626.36,591.1 1627.64,590.4 1629.82,590.7C1632.00,590.9 1634.81,593.1 1637.50,593.2C1640.19,593.3 1643.26,591.4 1645.95,591.3C1648.64,591.2 1650.82,591.9 1653.63,592.6C1656.45,593.4 1659.91,595.5 1662.85,595.6C1665.80,595.7 1668.74,593.2 1671.30,593.2C1673.86,593.2 1676.04,595.0 1678.22,595.6C1680.39,596.3 1682.06,597.2 1684.36,597.2C1686.67,597.2 1689.87,596.4 1692.04,595.6C1694.22,594.9 1695.88,594.1 1697.42,592.6C1698.96,591.2 1700.11,589.8 1701.26,586.7C1702.41,583.5 1703.46,579.2 1704.33,573.7C1705.21,568.2 1705.77,561.0 1706.49,553.7C1707.21,546.4 1707.94,537.1 1708.63,529.7C1709.31,522.4 1710.00,516.1 1710.60,509.8C1711.20,503.4 1711.73,495.9 1712.22,491.8C1712.72,487.6 1713.08,486.2 1713.55,484.8C1714.03,483.4 1714.53,482.9 1715.09,483.4C1715.65,483.9 1716.37,485.1 1716.93,487.8C1717.50,490.5 1717.96,495.1 1718.47,499.8C1718.98,504.4 1719.49,511.1 1720.01,515.8C1720.52,520.4 1721.00,525.0 1721.54,527.7C1722.08,530.5 1722.57,532.0 1723.23,532.1C1723.90,532.3 1724.79,531.1 1725.54,528.7C1726.28,526.3 1727.00,521.9 1727.69,517.7C1728.38,513.6 1729.02,507.8 1729.69,503.8C1730.35,499.8 1730.99,496.1 1731.68,493.8C1732.37,491.5 1733.14,490.0 1733.83,489.8C1734.53,489.6 1735.17,490.5 1735.83,492.8C1736.50,495.1 1737.19,500.1 1737.83,503.8C1738.47,507.4 1739.06,512.3 1739.67,514.8C1740.29,517.3 1740.80,518.9 1741.52,518.7C1742.23,518.6 1743.29,517.3 1743.97,513.8C1744.66,510.3 1745.04,504.4 1745.64,497.8C1746.25,491.1 1746.94,481.1 1747.60,473.8C1748.27,466.5 1749.05,459.5 1749.61,453.8C1750.18,448.2 1750.57,443.3 1751.01,439.9C1751.46,436.4 1751.86,434.3 1752.27,432.9C1752.69,431.5 1753.04,431.1 1753.50,431.5C1753.96,431.8 1754.52,431.8 1755.04,434.9C1755.55,437.9 1756.08,444.0 1756.60,449.8C1757.12,455.7 1757.62,462.5 1758.16,469.8C1758.70,477.1 1759.19,486.1 1759.83,493.8C1760.46,501.4 1761.22,509.4 1761.97,515.8C1762.72,522.1 1763.41,526.7 1764.30,531.7C1765.20,536.7 1766.18,541.9 1767.33,545.7C1768.47,549.5 1769.76,552.0 1771.17,554.7C1772.58,557.4 1774.24,559.7 1775.78,561.7C1777.31,563.7 1778.85,565.0 1780.39,566.7C1781.92,568.3 1784.23,570.8 1785.00,571.7" stroke="#ff0a0a" stroke-width="5.80"/>
</g>
<g stroke="#050505" fill="none" stroke-linecap="butt">
<g stroke-width="6.20">
<line x1="174.0" y1="35.4" x2="2324.1" y2="35.4"/>
<line x1="174.0" y1="1480.5" x2="2324.1" y2="1480.5"/>
<line x1="174.0" y1="216.0" x2="210.8" y2="216.0"/>
<line x1="174.0" y1="396.7" x2="210.8" y2="396.7"/>
<line x1="174.0" y1="577.3" x2="210.8" y2="577.3"/>
<line x1="174.0" y1="757.9" x2="210.8" y2="757.9"/>
<line x1="174.0" y1="938.6" x2="210.8" y2="938.6"/>
<line x1="174.0" y1="1119.2" x2="210.8" y2="1119.2"/>
<line x1="174.0" y1="1299.9" x2="210.8" y2="1299.9"/>
<line x1="191.0" y1="125.7" x2="210.8" y2="125.7"/>
<line x1="191.0" y1="306.4" x2="210.8" y2="306.4"/>
<line x1="191.0" y1="487.0" x2="210.8" y2="487.0"/>
<line x1="191.0" y1="667.6" x2="210.8" y2="667.6"/>
<line x1="191.0" y1="848.3" x2="210.8" y2="848.3"/>
<line x1="191.0" y1="1028.9" x2="210.8" y2="1028.9"/>
<line x1="191.0" y1="1209.5" x2="210.8" y2="1209.5"/>
<line x1="191.0" y1="1390.2" x2="210.8" y2="1390.2"/>
</g>
<g stroke-width="7.00">
<line x1="210.8" y1="35.4" x2="210.8" y2="1496.5"/>
<line x1="2320.6" y1="32.3" x2="2320.6" y2="1512.0"/>
<line x1="2072.4" y1="1480.5" x2="2072.4" y2="1512.0"/>
<line x1="1824.2" y1="1480.5" x2="1824.2" y2="1512.0"/>
<line x1="1576.0" y1="1480.5" x2="1576.0" y2="1512.0"/>
<line x1="1327.8" y1="1480.5" x2="1327.8" y2="1512.0"/>
<line x1="1079.5" y1="1480.5" x2="1079.5" y2="1512.0"/>
<line x1="831.3" y1="1480.5" x2="831.3" y2="1512.0"/>
<line x1="583.1" y1="1480.5" x2="583.1" y2="1512.0"/>
<line x1="334.9" y1="1480.5" x2="334.9" y2="1512.0"/>
<line x1="2196.5" y1="1480.5" x2="2196.5" y2="1496.5"/>
<line x1="1948.3" y1="1480.5" x2="1948.3" y2="1496.5"/>
<line x1="1700.1" y1="1480.5" x2="1700.1" y2="1496.5"/>
<line x1="1451.9" y1="1480.5" x2="1451.9" y2="1496.5"/>
<line x1="1203.6" y1="1480.5" x2="1203.6" y2="1496.5"/>
<line x1="955.4" y1="1480.5" x2="955.4" y2="1496.5"/>
<line x1="707.2" y1="1480.5" x2="707.2" y2="1496.5"/>
<line x1="459.0" y1="1480.5" x2="459.0" y2="1496.5"/>
</g>
</g>
<g transform="scale(1.180,1)">
<rect x="205.17" y="55.0" width="231.69" height="195.0" rx="1.5" ry="1.5" fill="#fefefe" stroke="#2e2e2e" stroke-width="3.4"/>
<line x1="213.14" y1="105.7" x2="385.17" y2="105.7" stroke="#0c0c0c" stroke-width="6.6"/>
<line x1="213.14" y1="198.3" x2="385.17" y2="198.3" stroke="#ff0a0a" stroke-width="6.6"/>
</g>
<g stroke="#0a0a0a" stroke-width="0.70" stroke-linejoin="round">
<text transform="translate(468.5,131.6) scale(1.130,1)" font-size="54.5">a</text>
<text transform="translate(468.5,223.8) scale(1.130,1)" font-size="54.5">b</text>
<text transform="translate(2319.8,1576.6) scale(1.135,1)" font-size="63.5" text-anchor="middle">800</text>
<text transform="translate(2071.6,1576.6) scale(1.135,1)" font-size="63.5" text-anchor="middle">1000</text>
<text transform="translate(1823.4,1576.6) scale(1.135,1)" font-size="63.5" text-anchor="middle">1200</text>
<text transform="translate(1575.2,1576.6) scale(1.135,1)" font-size="63.5" text-anchor="middle">1400</text>
<text transform="translate(1327.0,1576.6) scale(1.135,1)" font-size="63.5" text-anchor="middle">1600</text>
<text transform="translate(1078.7,1576.6) scale(1.135,1)" font-size="63.5" text-anchor="middle">1800</text>
<text transform="translate(830.5,1576.6) scale(1.135,1)" font-size="63.5" text-anchor="middle">2000</text>
<text transform="translate(582.3,1576.6) scale(1.135,1)" font-size="63.5" text-anchor="middle">2200</text>
<text transform="translate(334.1,1576.6) scale(1.135,1)" font-size="63.5" text-anchor="middle">2400</text>
<text transform="translate(891.5,1706.6) scale(1.160,1)" font-size="76.5">Wavenumber(cm<tspan font-size="44.0" dy="-37.0">-</tspan><tspan font-size="44.0" dx="1.5">1</tspan><tspan dy="37.0" dx="4.0">)</tspan></text>
<text transform="translate(84.7,738.5) scale(1.160,0.980) rotate(-90)" font-size="76.5" text-anchor="middle">Absorbance</text>
</g>
</g>
</svg>
</body>
</html>
